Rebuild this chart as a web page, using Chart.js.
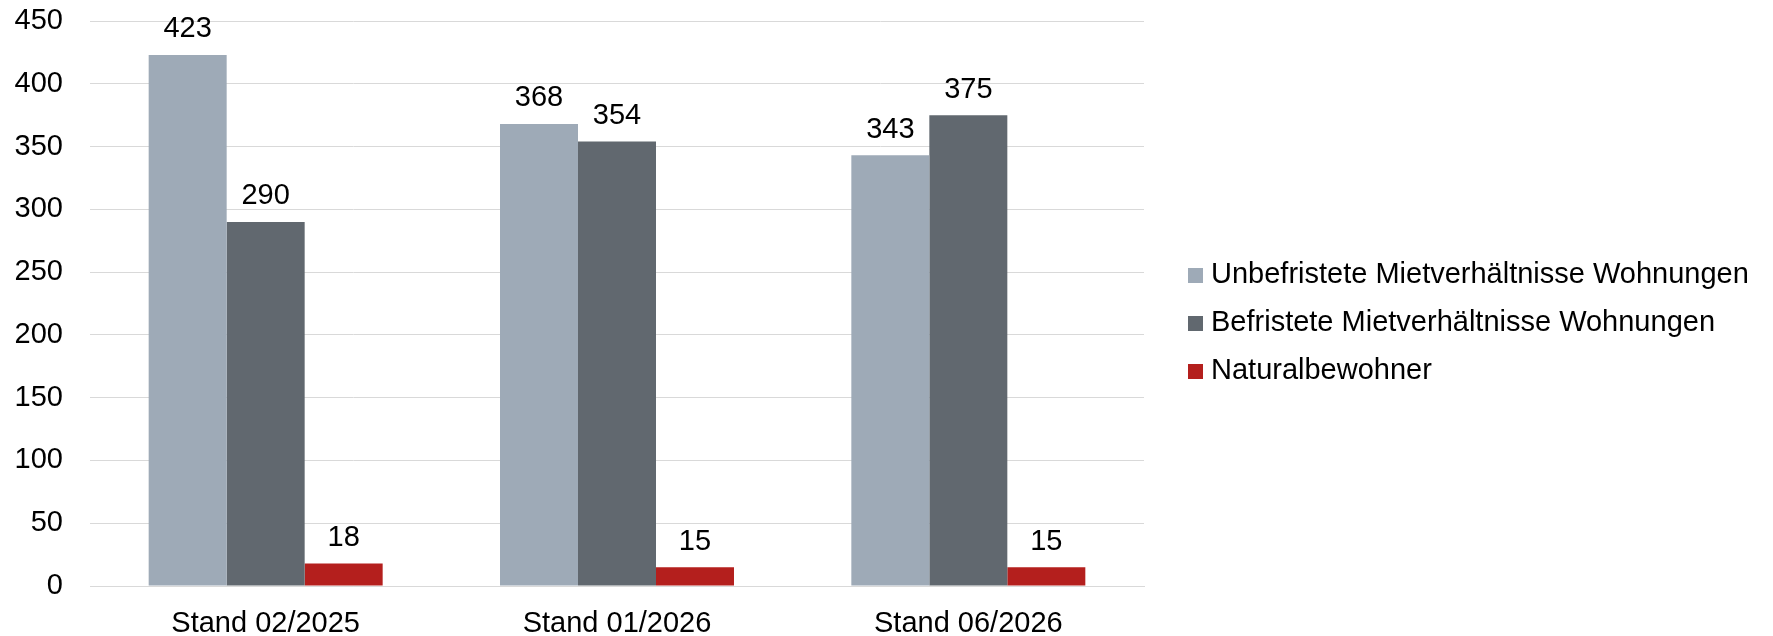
<!DOCTYPE html>
<html lang="de">
<head>
<meta charset="utf-8">
<title>Mietverhältnisse</title>
<script src="https://cdn.jsdelivr.net/npm/chart.js@4"></script>
<style>
  html, body { margin: 0; padding: 0; background: #ffffff; }
  #wrap { width: 1773px; height: 636px; }
</style>
</head>
<body>
<div id="wrap"><canvas id="chart" width="1773" height="636"></canvas></div>
<script>
// Stichtage und Werte je Gruppe
const categories = ['Stand 02/2025', 'Stand 01/2026', 'Stand 06/2026'];
const seriesNames = [
  'Unbefristete Mietverhältnisse Wohnungen',
  'Befristete Mietverhältnisse Wohnungen',
  'Naturalbewohner'
];
const unbefristet = [423, 368, 343];
const befristet = [290, 354, 375];
const naturalbewohner = [18, 15, 15];
const yTicks = [0, 50, 100, 150, 200, 250, 300, 350, 400, 450];

const colors = ['#9eaab7', '#61686f', '#b41f1d'];
const FONT = '"Liberation Sans", Arial, Helvetica, sans-serif';

Chart.defaults.font.family = FONT;
Chart.defaults.font.size = 29;
Chart.defaults.color = '#000000';

// Werte über den Balken
const valueLabels = {
  id: 'valueLabels',
  afterDatasetsDraw(chart) {
    const ctx = chart.ctx;
    ctx.save();
    ctx.font = '29px ' + FONT;
    ctx.fillStyle = '#000000';
    ctx.textAlign = 'center';
    ctx.textBaseline = 'alphabetic';
    chart.data.datasets.forEach((ds, i) => {
      const meta = chart.getDatasetMeta(i);
      meta.data.forEach((bar, j) => {
        ctx.fillText(String(ds.data[j]), bar.x, bar.y - 17.5);
      });
    });
    ctx.restore();
  }
};

// Legende rechts neben der Grafik
const sideLegend = {
  id: 'sideLegend',
  afterDraw(chart) {
    const ctx = chart.ctx;
    const boxX = 1188, box = 15, textX = 1211, firstBase = 283, step = 48;
    ctx.save();
    ctx.font = '29px ' + FONT;
    ctx.textAlign = 'left';
    ctx.textBaseline = 'alphabetic';
    chart.data.datasets.forEach((ds, i) => {
      const base = firstBase + i * step;
      ctx.fillStyle = ds.backgroundColor;
      ctx.fillRect(boxX, base - box, box, box);
      ctx.fillStyle = '#000000';
      ctx.fillText(ds.label, textX, base);
    });
    ctx.restore();
  }
};

new Chart(document.getElementById('chart'), {
  type: 'bar',
  data: {
    labels: categories,
    datasets: [
      { label: seriesNames[0], data: unbefristet, backgroundColor: colors[0] },
      { label: seriesNames[1], data: befristet, backgroundColor: colors[1] },
      { label: seriesNames[2], data: naturalbewohner, backgroundColor: colors[2] }
    ]
  },
  options: {
    responsive: false,
    animation: false,
    devicePixelRatio: 1,
    layout: { padding: { top: 21, left: 0, right: 629, bottom: 0 } },
    datasets: {
      bar: { categoryPercentage: 0.666, barPercentage: 1.0, borderWidth: 0 }
    },
    plugins: {
      legend: { display: false },
      tooltip: { enabled: false }
    },
    scales: {
      x: {
        grid: { display: false, drawTicks: false },
        border: { display: true, color: '#d9d9d9', width: 1 },
        ticks: { padding: 21, font: { size: 29 }, color: '#000000' },
        afterFit(scale) {
          scale.height = 50;
          scale.paddingLeft = 0;
          scale.paddingRight = 0;
        }
      },
      y: {
        min: 0,
        max: 450,
        grid: { color: '#d9d9d9', lineWidth: 1, drawTicks: false },
        border: { display: false },
        afterBuildTicks(scale) { scale.ticks = yTicks.map(v => ({ value: v })); },
        ticks: { padding: 27, font: { size: 29 }, color: '#000000' },
        afterFit(scale) {
          scale.width = 90;
          scale.paddingTop = 0;
          scale.paddingBottom = 0;
        }
      }
    }
  },
  plugins: [valueLabels, sideLegend]
});
</script>
</body>
</html>
